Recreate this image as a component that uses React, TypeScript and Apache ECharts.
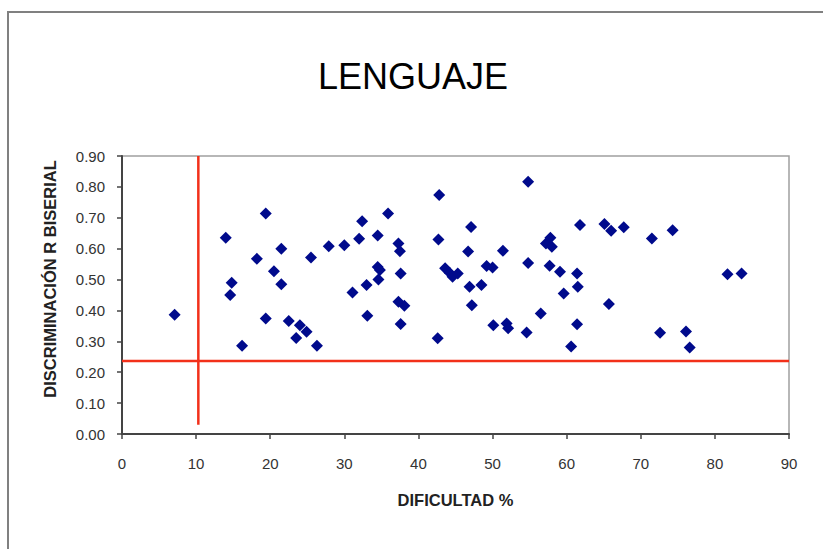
import React, { useEffect, useRef } from "react";
import * as echarts from "echarts";

const titleText = "LENGUAJE";
const xName = "DIFICULTAD %";
const yName = "DISCRIMINACIÓN R BISERIAL";

const dificultad = [
  7.1, 14.0, 14.8, 14.6, 16.2, 19.4, 18.2, 19.4, 21.5, 20.5, 21.5, 22.5, 23.5, 24.0, 24.9, 26.3, 25.5, 27.9, 30.0, 31.1,
  32.4, 32.0, 34.5, 35.9, 37.3, 37.5, 34.5, 34.8, 34.6, 33.0, 33.1, 37.6, 37.3, 38.1, 37.6, 42.8, 42.7, 42.6, 43.6, 44.2,
  44.6, 45.3, 47.1, 46.7, 46.9, 48.5, 47.2, 49.2, 50.0, 51.4, 50.1, 51.9, 52.1, 54.6, 54.8, 54.8, 56.5, 57.2, 57.8, 58.0,
  57.7, 59.1, 59.6, 60.6, 61.4, 61.8, 61.4, 61.5, 65.1, 66.0, 67.7, 65.7, 71.5, 74.3, 72.6, 76.1, 76.6, 81.7, 83.6,
];
const discriminacion = [
  0.386, 0.635, 0.49, 0.45, 0.286, 0.714, 0.567, 0.374, 0.6, 0.527, 0.485, 0.366, 0.311, 0.352, 0.331, 0.286, 0.571, 0.608, 0.611, 0.458,
  0.689, 0.632, 0.643, 0.714, 0.617, 0.592, 0.541, 0.531, 0.5, 0.482, 0.383, 0.52, 0.428, 0.415, 0.356, 0.774, 0.63, 0.31, 0.537, 0.522,
  0.509, 0.52, 0.67, 0.591, 0.477, 0.482, 0.417, 0.544, 0.539, 0.593, 0.352, 0.358, 0.342, 0.329, 0.817, 0.554, 0.39, 0.617, 0.635, 0.606,
  0.545, 0.525, 0.455, 0.283, 0.355, 0.677, 0.52, 0.477, 0.68, 0.658, 0.669, 0.421, 0.633, 0.66, 0.328, 0.332, 0.28, 0.517, 0.52,
];
const refVertical = [
  [10.3, 0.03],
  [10.3, 0.9],
];
const refHorizontal = [
  [0, 0.236],
  [90, 0.236],
];

const FONT = "'Liberation Sans', Arial, sans-serif";

export default function App() {
  const ref = useRef<HTMLDivElement>(null);
  useEffect(() => {
    if (!ref.current) return;
    const chart = echarts.init(ref.current, null, { renderer: "svg" });
    const points = dificultad.map((x, i) => [x, discriminacion[i]]);
    chart.setOption({
      animation: false,
      backgroundColor: "#ffffff",
      textStyle: { fontFamily: FONT },
      grid: {
        left: 122,
        top: 156,
        right: 34,
        bottom: 115,
        show: true,
        borderColor: "#a0a0a0",
        borderWidth: 1.5,
      },
      graphic: [
        {
          type: "rect",
          shape: { x: 8, y: 12, width: 900, height: 700 },
          style: { fill: "none", stroke: "#808080", lineWidth: 2 },
          silent: true,
        },
        {
          type: "text",
          x: 413,
          y: 76,
          style: {
            text: titleText,
            fontFamily: FONT,
            fontSize: 36,
            fill: "#000000",
            textAlign: "center",
            textVerticalAlign: "middle",
          },
        },
        {
          type: "text",
          x: 50,
          y: 279,
          rotation: Math.PI / 2,
          style: {
            text: yName,
            fontFamily: FONT,
            fontSize: 16.5,
            fontWeight: "bold",
            fill: "#222222",
            textAlign: "center",
            textVerticalAlign: "middle",
          },
        },
      ],
      xAxis: {
        type: "value",
        min: 0,
        max: 90,
        interval: 10,
        name: xName,
        nameLocation: "middle",
        nameGap: 57,
        nameTextStyle: { fontFamily: FONT, fontSize: 16.5, fontWeight: "bold", color: "#222222" },
        axisLine: { show: true, lineStyle: { color: "#444444", width: 2 } },
        axisTick: { show: true, inside: false, length: 5, lineStyle: { color: "#444444", width: 1.5 } },
        axisLabel: { margin: 22, fontSize: 15, color: "#333333", fontFamily: FONT },
        splitLine: { show: false },
      },
      yAxis: {
        type: "value",
        min: 0,
        max: 0.9,
        interval: 0.1,
        axisLine: { show: true, lineStyle: { color: "#444444", width: 2 } },
        axisTick: { show: true, inside: false, length: 5, lineStyle: { color: "#444444", width: 1.5 } },
        axisLabel: {
          margin: 17,
          fontSize: 15,
          color: "#333333",
          fontFamily: FONT,
          formatter: (v: number) => v.toFixed(2),
        },
        splitLine: { show: false },
      },
      series: [
        {
          type: "line",
          data: refVertical,
          symbol: "none",
          lineStyle: { color: "#f2301a", width: 2.5 },
          silent: true,
          z: 1,
        },
        {
          type: "line",
          data: refHorizontal,
          symbol: "none",
          lineStyle: { color: "#f2301a", width: 2.5 },
          silent: true,
          z: 1,
        },
        {
          type: "scatter",
          data: points,
          symbol: "diamond",
          symbolSize: 12,
          itemStyle: { color: "#000a8c", opacity: 1 },
          z: 3,
        },
      ],
    });
    return () => chart.dispose();
  }, []);
  return (
    <div
      ref={ref}
      style={{ position: "absolute", left: 0, top: 0, width: 823, height: 549 }}
    />
  );
}
